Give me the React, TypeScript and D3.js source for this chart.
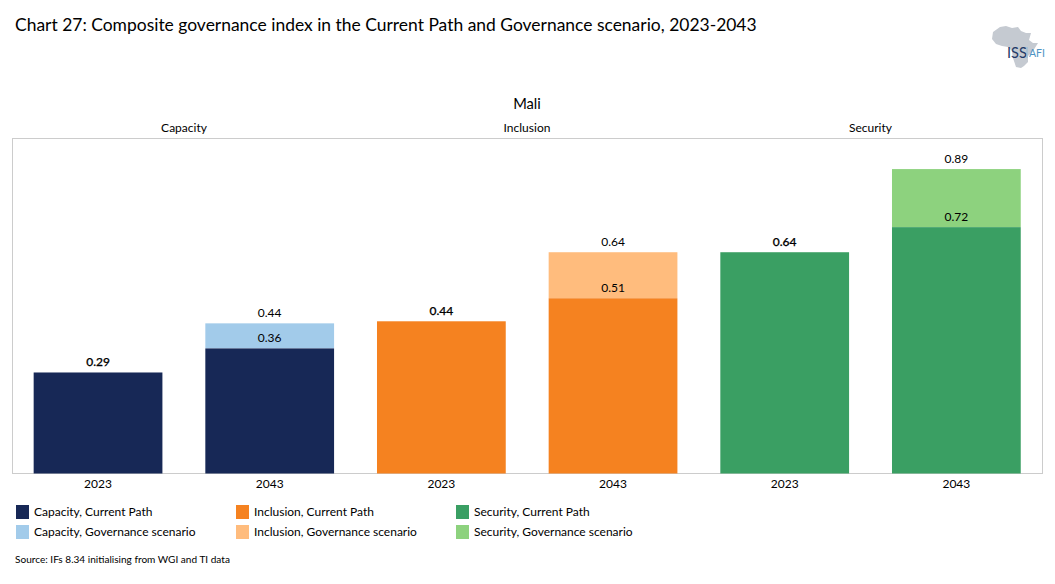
import React from "react";
import * as d3 from "d3";

const title = "Chart 27: Composite governance index in the Current Path and Governance scenario, 2023-2043";
const country = "Mali";
const source = "Source: IFs 8.34 initialising from WGI and TI data";
const groups = ["Capacity", "Inclusion", "Security"];
const years = ["2023", "2043"];
const currentPath = [0.294, 0.364, 0.443, 0.51, 0.644, 0.717];
const governanceScenario = [0.294, 0.437, 0.443, 0.644, 0.644, 0.886];
const currentLabels = ["0.29", "0.36", "0.44", "0.51", "0.64", "0.72"];
const scenarioLabels = ["", "0.44", "", "0.64", "", "0.89"];
const darkColors = ["#172856", "#F58220", "#3A9F63"];
const lightColors = ["#A2CBEA", "#FFBC7D", "#8DD27E"];

const FONT = "Lato, Carlito, 'Open Sans', sans-serif";
const W = 1055, H = 584;
const plot = { l: 12.5, r: 1042.5, t: 138.5, b: 473.5 };
const africa =
  "M1000 27 L1006 26 L1012 28 L1018 27 L1021 31 L1026 33 L1031 33 L1029 40 L1033 43 L1038 43 L1033 51 L1028 56 L1028 62 L1024 66 L1021 68 L1016 67 L1013 58 L1012 51 L1008 47 L1002 46 L996 44 L992 39 L993 32 Z";

export default function App() {
  const cats = d3.range(currentPath.length).map(String);
  const x = d3.scaleBand<string>().domain(cats).range([plot.l - 0.3, plot.r - 0.3]).paddingInner(0.25).paddingOuter(0.125);
  const y = d3.scaleLinear().domain([0, 0.975]).range([plot.b, plot.t]);
  const legendX = [16, 236, 456];
  return (
    <svg width={W} height={H} viewBox={`0 0 ${W} ${H}`}
      style={{ position: "absolute", left: 0, top: 0, fontFamily: FONT, background: "#fff" }}>
      <text x={15} y={30.5} fontSize={17.47} fill="#000">{title}</text>

      <path d={africa} fill="#C5CAD1" />
      <text x={1007} y={58} fontSize={14.5} fill="#1F3A68">ISS</text>
      <line x1={1027} x2={1027} y1={47} y2={58} stroke="#8DB8D8" strokeWidth={1} />
      <text x={1029} y={57} fontSize={10.5} fill="#4D94C4">AFI</text>

      <text x={527} y={109} fontSize={14.7} textAnchor="middle" fill="#000">{country}</text>
      {groups.map((g, i) => (
        <text key={g} x={[184, 527, 870.5][i]} y={132} fontSize={12} textAnchor="middle" fill="#000">{g}</text>
      ))}

      <rect x={plot.l} y={plot.t} width={plot.r - plot.l} height={plot.b - plot.t} fill="#fff" stroke="#CCCCCC" strokeWidth={1} />

      {cats.map((c, i) => {
        const g = Math.floor(i / 2);
        const bx = x(c)!;
        const bw = x.bandwidth();
        const cx = bx + bw / 2;
        const hasScenario = scenarioLabels[i] !== "";
        return (
          <g key={c}>
            {hasScenario && (
              <rect x={bx} y={y(governanceScenario[i])} width={bw} height={y(currentPath[i]) - y(governanceScenario[i])} fill={lightColors[g]} />
            )}
            <rect x={bx} y={y(currentPath[i])} width={bw} height={plot.b - y(currentPath[i])} fill={darkColors[g]} />
            {hasScenario ? (
              <>
                <text x={cx} y={y(governanceScenario[i]) - 6.5} fontSize={12} textAnchor="middle" fill="#000">{scenarioLabels[i]}</text>
                <text x={cx} y={y(currentPath[i]) - 6.5} fontSize={12} textAnchor="middle" fill="#000">{currentLabels[i]}</text>
              </>
            ) : (
              <text x={cx} y={y(currentPath[i]) - 6.5} fontSize={12} fontWeight={500} stroke="#000" strokeWidth={0.25} textAnchor="middle" fill="#000">{currentLabels[i]}</text>
            )}
            <text x={cx} y={488} fontSize={12} textAnchor="middle" fill="#000">{years[i % 2]}</text>
          </g>
        );
      })}

      {groups.map((g, i) => (
        <g key={g}>
          <rect x={legendX[i]} y={505} width={13} height={14} fill={darkColors[i]} />
          <text x={legendX[i] + 18} y={516} fontSize={12} fill="#000">{g}, Current Path</text>
          <rect x={legendX[i]} y={525} width={13} height={14} fill={lightColors[i]} />
          <text x={legendX[i] + 18} y={536} fontSize={12} fill="#000">{g}, Governance scenario</text>
        </g>
      ))}

      <text x={15} y={563} fontSize={10.07} fill="#000">{source}</text>
    </svg>
  );
}
